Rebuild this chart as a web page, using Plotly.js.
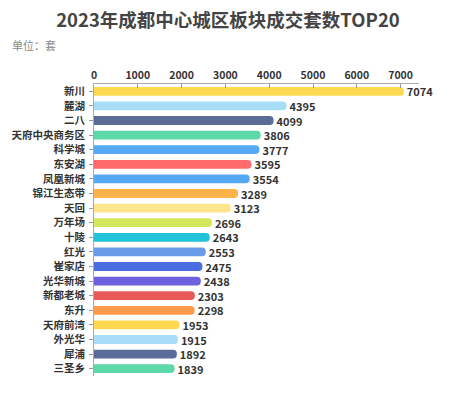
<!DOCTYPE html>
<html><head><meta charset="utf-8">
<script src="https://cdn.plot.ly/plotly-3.0.1.min.js"></script>
<style>html,body{margin:0;padding:0;background:#fff;}#chart{width:456px;height:397px;}</style>
</head><body><div id="chart"></div>
<script>
const categories = ["新川","麓湖","二八","天府中央商务区","科学城","东安湖","凤凰新城","锦江生态带","天回","万年场","十陵","红光","崔家店","光华新城","新都老城","东升","天府前湾","外光华","犀浦","三圣乡"];
const values = [7074,4395,4099,3806,3777,3595,3554,3289,3123,2696,2643,2553,2475,2438,2303,2298,1953,1915,1892,1839];
const colors = ["#FFD94F","#A8DDF8","#5A6C98","#5DD8A8","#55A9F2","#FF6B6B","#55A9F2","#FFB24A","#FFE48E","#D3E95B","#22C2D8","#6A9BE8","#4A6EE0","#6E61E0","#E85A5A","#FF9A4B","#FFD94F","#A8DDF8","#5A6C98","#5DD8A8"];
const tickVals = [0,1000,2000,3000,4000,5000,6000,7000];
const F = "'Noto Sans CJK SC','Noto Sans',sans-serif";
Plotly.newPlot('chart',[{
  type:'bar', orientation:'h', y:categories, x:values,
  marker:{color:colors, cornerradius:4},
  width:0.6,
  text:values.map(String), textposition:'outside', cliponaxis:false, constraintext:'none',
  textfont:{family:F,size:11,color:'#333',weight:'bold'},
  hoverinfo:'none'
}],{
  width:456,height:397,
  margin:{l:94,r:37,t:84,b:21},
  paper_bgcolor:'#fff',plot_bgcolor:'#fff',
  showlegend:false,
  title:{text:'<b>2023年成都中心城区板块成交套数TOP20</b>',x:0.5,xanchor:'center',y:0.948,yanchor:'middle',yref:'container',font:{family:F,size:18.5,color:'#444'}},
  annotations:[{text:'单位：套',xref:'paper',yref:'paper',x:-0.258,y:1.135,xanchor:'left',yanchor:'middle',showarrow:false,font:{family:F,size:11,color:'#888'}}],
  xaxis:{side:'top',range:[0,7420],tickvals:tickVals,ticktext:tickVals.map(String),ticks:'inside',ticklen:4,tickcolor:'#999',showline:true,linecolor:'#aaa',linewidth:1,showgrid:false,zeroline:false,tickfont:{family:F,size:10.5,color:'#333',weight:'bold'},fixedrange:true},
  yaxis:{autorange:'reversed',ticks:'outside',ticklen:4,tickcolor:'#999',showline:true,linecolor:'#aaa',linewidth:1,showgrid:false,tickfont:{family:F,size:10.5,color:'#333',weight:'bold'},ticklabelstandoff:2,fixedrange:true}
},{displayModeBar:false,staticPlot:true});
</script></body></html>
